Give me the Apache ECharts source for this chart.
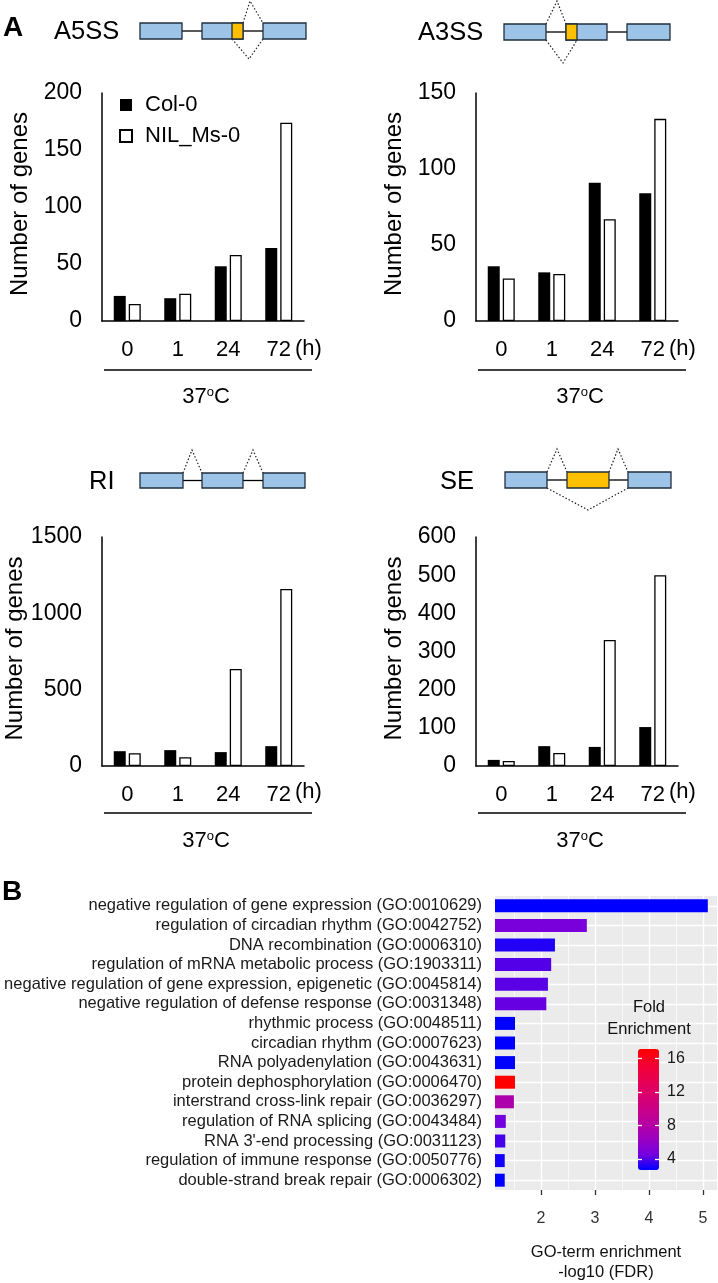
<!DOCTYPE html>
<html><head><meta charset="utf-8">
<script src="https://cdn.jsdelivr.net/npm/echarts@6/dist/echarts.min.js"></script>
<style>html,body{margin:0;padding:0;background:#fff}#c{width:718px;height:1283px}</style>
</head><body><div id="c"></div>
<script>
// ---------- data ----------
const timeCats = ['0', '1', '24', '72'];
const seriesNames = ['Col-0', 'NIL_Ms-0'];
const a5ssCol = [22, 20, 48, 64];
const a5ssNil = [15, 24, 58, 174];
const a5ssTicks = [0, 50, 100, 150, 200];
const a3ssCol = [36, 32, 91, 84];
const a3ssNil = [28, 31, 67, 133];
const a3ssTicks = [0, 50, 100, 150];
const riCol = [97, 104, 91, 130];
const riNil = [84, 58, 636, 1160];
const riTicks = [0, 500, 1000, 1500];
const seCol = [16, 52, 50, 102];
const seNil = [13, 34, 330, 500];
const seTicks = [0, 100, 200, 300, 400, 500, 600];

const goTerms = [
  'negative regulation of gene expression (GO:0010629)',
  'regulation of circadian rhythm (GO:0042752)',
  'DNA recombination (GO:0006310)',
  'regulation of mRNA metabolic process (GO:1903311)',
  'negative regulation of gene expression, epigenetic (GO:0045814)',
  'negative regulation of defense response (GO:0031348)',
  'rhythmic process (GO:0048511)',
  'circadian rhythm (GO:0007623)',
  'RNA polyadenylation (GO:0043631)',
  'protein dephosphorylation (GO:0006470)',
  'interstrand cross-link repair (GO:0036297)',
  'regulation of RNA splicing (GO:0043484)',
  "RNA 3'-end processing (GO:0031123)",
  'regulation of immune response (GO:0050776)',
  'double-strand break repair (GO:0006302)'
];
const goLog10FDR = [5.09, 2.85, 2.26, 2.19, 2.13, 2.10, 1.52, 1.52, 1.52, 1.52, 1.50, 1.35, 1.34, 1.33, 1.33];
const goFold = [2.7, 4.8, 3.2, 4.0, 4.1, 4.3, 2.7, 2.7, 2.7, 17.1, 7.6, 4.6, 3.8, 3.0, 2.7];
const goXTicks = [2, 3, 4, 5];
const goXMinor = [1.5, 2.5, 3.5, 4.5];
const foldTicks = [4, 8, 12, 16];

// ---------- chart ----------
const FONT = 'Liberation Sans, Arial, Helvetica, sans-serif';
const chart = echarts.init(document.getElementById('c'), null, {renderer: 'canvas'});

const panels = [
  {col: a5ssCol, nil: a5ssNil, ticks: a5ssTicks, grid: {left: 102, top: 93, width: 202, height: 228}},
  {col: a3ssCol, nil: a3ssNil, ticks: a3ssTicks, grid: {left: 476, top: 93, width: 202, height: 228}},
  {col: riCol, nil: riNil, ticks: riTicks, grid: {left: 102, top: 537, width: 202, height: 229}},
  {col: seCol, nil: seNil, ticks: seTicks, grid: {left: 476, top: 537, width: 202, height: 229}}
];

const grids = [], xAxes = [], yAxes = [], series = [];
panels.forEach((p, i) => {
  grids.push(Object.assign({containLabel: false}, p.grid));
  xAxes.push({
    type: 'category', gridIndex: i, data: timeCats,
    axisLine: {show: true, lineStyle: {color: '#000', width: 1.5}},
    axisTick: {show: false},
    axisLabel: {fontSize: 22, fontFamily: FONT, color: '#000', margin: 18, interval: 0}
  });
  yAxes.push({
    type: 'value', gridIndex: i, min: p.ticks[0], max: p.ticks[p.ticks.length - 1],
    interval: p.ticks[1] - p.ticks[0],
    axisLine: {show: true, lineStyle: {color: '#000', width: 1.5}},
    axisTick: {show: false}, splitLine: {show: false},
    axisLabel: {fontSize: 23, fontFamily: FONT, color: '#000', margin: 20, formatter: v => String(v)},
    name: 'Number of genes', nameLocation: 'middle', nameGap: 70,
    nameTextStyle: {fontSize: 24, fontFamily: FONT, color: '#000', padding: [0, 0, 0, 6]}
  });
  series.push({
    type: 'bar', name: seriesNames[0], xAxisIndex: i, yAxisIndex: i, data: p.col,
    barWidth: 12, barGap: '25%', itemStyle: {color: '#000'}, animation: false
  });
  series.push({
    type: 'bar', name: seriesNames[1], xAxisIndex: i, yAxisIndex: i, data: p.nil,
    barWidth: 12, barGap: '25%', itemStyle: {color: '#fff', borderColor: '#000', borderWidth: 1.3}, animation: false
  });
});

// GO enrichment panel (grid 4)
grids.push({left: 495, top: 896, width: 222, height: 301, show: true, backgroundColor: '#ebebeb', borderWidth: 0});
xAxes.push({
  type: 'value', gridIndex: 4, min: 1.15, max: 5.26,
  axisLine: {show: false}, splitLine: {show: false},
  axisTick: {show: true, length: 5, lineStyle: {color: '#333', width: 1.3}, customValues: goXTicks},
  axisLabel: {fontSize: 16, fontFamily: FONT, color: '#333', margin: 21, customValues: goXTicks},
  name: 'GO-term enrichment\n-log10 (FDR)', nameLocation: 'middle', nameGap: 52,
  nameTextStyle: {fontSize: 16.5, fontFamily: FONT, color: '#111', lineHeight: 20}
});
yAxes.push({
  type: 'category', gridIndex: 4, data: goTerms, inverse: true,
  axisLine: {show: false},
  axisTick: {show: false},
  axisLabel: {fontSize: 16.5, fontFamily: FONT, color: '#1a1a1a', margin: 13, interval: 0}
});
const goGridLines = [];
goXTicks.forEach(v => goGridLines.push({xAxis: v, lineStyle: {color: '#fff', width: 1.4, type: 'solid'}}));
goXMinor.forEach(v => goGridLines.push({xAxis: v, lineStyle: {color: '#fff', width: 0.7, type: 'solid'}}));
goTerms.forEach((t, i) => goGridLines.push({yAxis: i, lineStyle: {color: '#fff', width: 1.4, type: 'solid'}}));
series.push({
  type: 'line', xAxisIndex: 4, yAxisIndex: 4, z: 1, silent: true, animation: false,
  data: goLog10FDR.map((v, i) => [v, i]), symbol: 'none', lineStyle: {opacity: 0},
  markLine: {z: 1, symbol: 'none', silent: true, animation: false, label: {show: false}, data: goGridLines}
});
const goSeriesIndex = series.length;
series.push({
  type: 'bar', xAxisIndex: 4, yAxisIndex: 4, z: 3, animation: false, barWidth: 13,
  encode: {x: 0, y: 1},
  data: goLog10FDR.map((v, i) => [v, i, goFold[i]])
});

// colour-bar tick axes (grid 5)
grids.push({left: 638, top: 1049, width: 21, height: 121});
xAxes.push({type: 'value', gridIndex: 5, show: false, min: 0, max: 1});
const cbAxis = (pos, showLabel) => ({
  type: 'value', gridIndex: 5, position: pos, min: 2.7, max: 17.1, z: 10,
  axisLine: {show: false}, splitLine: {show: false},
  axisTick: {show: true, inside: true, length: 4, lineStyle: {color: '#fff', width: 1.3}, customValues: foldTicks},
  axisLabel: {show: showLabel, fontSize: 16, fontFamily: FONT, color: '#1a1a1a', margin: 8, customValues: foldTicks}
});
yAxes.push(cbAxis('left', false));
yAxes.push(cbAxis('right', true));
series.push({type: 'line', xAxisIndex: 5, yAxisIndex: 6, data: [], silent: true});

// ---------- diagram graphics ----------
const BLUE = '#9dc3e6', ORANGE = '#ffc000', EDGE = '#1f2f3f';
const G = [];
const box = (x1, x2, y1, y2, fill) => G.push({type: 'rect', z: 10, shape: {x: x1, y: y1, width: x2 - x1, height: y2 - y1}, style: {fill, stroke: EDGE, lineWidth: 1.3}});
const ln = (x1, y1, x2, y2, w) => G.push({type: 'line', z: 9, shape: {x1, y1, x2, y2}, style: {stroke: '#000', lineWidth: w || 1.3}});
const dot = pts => G.push({type: 'polyline', z: 9, shape: {points: pts}, style: {stroke: '#222', lineWidth: 1.2, lineDash: [1.5, 2], fill: null}});
const txt = (x, y, text, size, opt) => G.push({type: 'text', z: 10, x, y, style: Object.assign({text, fontSize: size, fontFamily: FONT, fill: '#000', verticalAlign: 'middle'}, opt || {})});

// panel letters
txt(3, 28, 'A', 28, {fontWeight: 'bold'});
txt(2, 892, 'B', 28, {fontWeight: 'bold'});

// A5SS
txt(54, 32, 'A5SS', 25.5);
ln(182, 31, 202, 31); ln(243, 31, 263, 31);
dot([[243, 23], [250, 1], [263, 23]]);
dot([[232, 39], [249, 59], [263, 39]]);
box(140, 182, 23, 39, BLUE); box(202, 243, 23, 39, BLUE); box(232, 243, 23, 39, ORANGE); box(263, 306, 23, 39, BLUE);

// A3SS
txt(418, 33, 'A3SS', 25.5);
ln(546, 32, 566, 32); ln(607, 32, 627, 32);
dot([[546, 24], [557, 1], [566, 24]]);
dot([[546, 40], [563, 63], [577, 40]]);
box(504, 546, 24, 40, BLUE); box(566, 607, 24, 40, BLUE); box(566, 577, 24, 40, ORANGE); box(627, 670, 24, 40, BLUE);

// RI
txt(89, 482, 'RI', 25.5);
ln(183, 480.5, 202, 480.5); ln(243, 480.5, 263, 480.5);
dot([[183, 473], [192, 450], [202, 473]]);
dot([[243, 473], [253, 450], [263, 473]]);
box(140, 183, 473, 488, BLUE); box(202, 243, 473, 488, BLUE); box(263, 305, 473, 488, BLUE);

// SE
txt(440, 482, 'SE', 25.5);
ln(547, 480, 567, 480); ln(609, 480, 628, 480);
dot([[547, 472], [557, 449], [567, 472]]);
dot([[609, 472], [618, 449], [628, 472]]);
dot([[547, 488], [588, 510], [628, 488]]);
box(505, 547, 472, 488, BLUE); box(567, 609, 472, 488, ORANGE); box(628, 671, 472, 488, BLUE);

// "(h)", brackets, 37°C
[[102, 349, 370, 397], [476, 349, 370, 397], [102, 792, 813, 841], [476, 792, 813, 841]].forEach(([gx, ly, by, ty]) => {
  txt(gx + 193, ly, '(h)', 22);
  ln(gx + 2, by, gx + 210, by, 1.6);
  G.push({type: 'text', z: 10, x: gx + 104, y: ty, style: {
    text: '{a|37}{s|o}{a|C}', align: 'center', verticalAlign: 'middle',
    rich: {a: {fontSize: 22, fontFamily: FONT, fill: '#000'}, s: {fontSize: 13, fontFamily: FONT, fill: '#000', padding: [0, 0, 9, 0]}}
  }});
});

// colour legend title
G.push({type: 'text', z: 10, x: 649, y: 1018, style: {text: 'Fold\nEnrichment', align: 'center', verticalAlign: 'middle', fontSize: 16.5, lineHeight: 22, fontFamily: FONT, fill: '#111'}});

chart.setOption({
  animation: false,
  backgroundColor: '#fff',
  textStyle: {fontFamily: FONT},
  grid: grids, xAxis: xAxes, yAxis: yAxes, series,
  legend: {
    data: seriesNames, orient: 'vertical', left: 114, top: 89, itemWidth: 12, itemHeight: 12, itemGap: 9,
    icon: 'rect', selectedMode: false,
    textStyle: {fontSize: 22, fontFamily: FONT, color: '#000', padding: [0, 0, 0, 8]}
  },
  visualMap: {
    type: 'continuous', min: 2.7, max: 17.1, dimension: 2, seriesIndex: goSeriesIndex,
    left: 638, top: 1049, itemWidth: 21, itemHeight: 121, calculable: false, padding: 0,
    hoverLink: false, text: null, z: 6,
    inRange: {color: ['#0000ff', '#7300e0', '#9a00c2', '#b400a4', '#ca0088', '#da006c', '#e8004f', '#f40031', '#ff0000']}
  },
  graphic: {elements: G}
});
</script></body></html>
